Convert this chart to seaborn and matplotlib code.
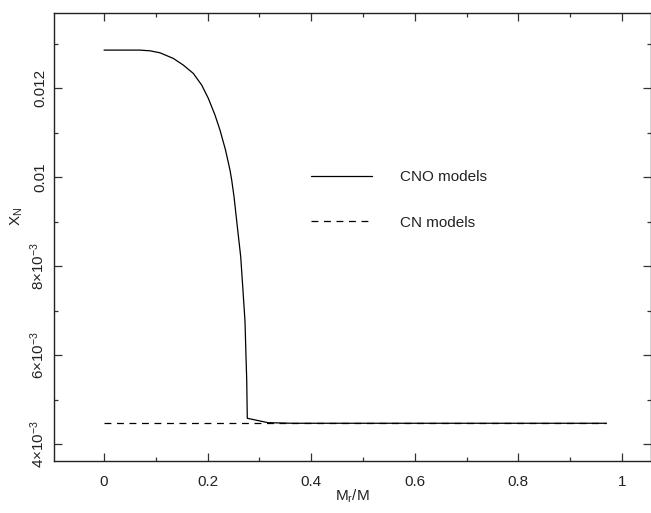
import numpy as np
import pandas as pd
import matplotlib
matplotlib.use("Agg")
import matplotlib.pyplot as plt
import seaborn as sns
from matplotlib.ticker import FixedLocator, MultipleLocator

# ---- data ----
mass_cno = [0.0, 0.0695, 0.0888, 0.1081, 0.1338, 0.1531, 0.1724, 0.1886, 0.2014,
            0.2143, 0.2239, 0.2346, 0.2432, 0.2465, 0.2510, 0.2581, 0.2639, 0.2678,
            0.2722, 0.2741, 0.2755, 0.2766, 0.3166, 0.3624, 0.97]
xn_cno = [0.012854, 0.012854, 0.012838, 0.012793, 0.012667, 0.012517, 0.012330,
          0.012067, 0.011769, 0.011393, 0.011056, 0.010607, 0.010157, 0.009933,
          0.009558, 0.008809, 0.008209, 0.007535, 0.006749, 0.005962, 0.005439,
          0.004578, 0.004479, 0.004466, 0.004466]
mass_cn = [0.0, 0.97]
xn_cn = [0.004466, 0.004466]

ytick_vals = [0.004, 0.006, 0.008, 0.010, 0.012]
ytick_labels = [r"$4{\times}10^{-3}$", r"$6{\times}10^{-3}$", r"$8{\times}10^{-3}$", "0.01", "0.012"]
xtick_vals = [0, 0.2, 0.4, 0.6, 0.8, 1.0]
xtick_labels = ["0", "0.2", "0.4", "0.6", "0.8", "1"]

sns.set_style("ticks")
plt.rcParams["font.family"] = ["Liberation Sans", "DejaVu Sans"]
plt.rcParams["mathtext.fontset"] = "custom"
plt.rcParams["mathtext.rm"] = "Liberation Sans"
plt.rcParams["mathtext.it"] = "Liberation Sans"
plt.rcParams["mathtext.default"] = "regular"

fig = plt.figure(figsize=(6.51, 5.13), dpi=100)
ax = fig.add_axes([0.083, 0.1014, 0.917, 0.8736])

df_cno = pd.DataFrame({"m": mass_cno, "x": xn_cno})
df_cn = pd.DataFrame({"m": mass_cn, "x": xn_cn})
sns.lineplot(data=df_cno, x="m", y="x", ax=ax, color="black", lw=0.9,
             label="CNO models", sort=False)
sns.lineplot(data=df_cn, x="m", y="x", ax=ax, color="black", lw=0.9,
             dashes=False, label="CN models", sort=False)
ax.lines[1].set_dashes((5.5, 4.5))

ax.set_xlim(-0.0965, 1.056)
ax.set_ylim(0.003618, 0.013692)

ax.xaxis.set_major_locator(FixedLocator(xtick_vals))
ax.set_xticklabels(xtick_labels)
ax.xaxis.set_minor_locator(MultipleLocator(0.1))
ax.yaxis.set_major_locator(FixedLocator(ytick_vals))
ax.set_yticklabels(ytick_labels, rotation=90, va="center")
ax.yaxis.set_minor_locator(MultipleLocator(0.001))

ax.tick_params(which="both", direction="in", top=True, right=True, color="#333333",
               labelsize=11, labelcolor="#222222")
ax.tick_params(which="major", length=6, width=0.9)
ax.tick_params(which="minor", length=3, width=0.9)
ax.tick_params(axis="x", which="major", pad=10)
ax.tick_params(axis="y", which="major", pad=5)
for s in ax.spines.values():
    s.set_linewidth(1.0)
    s.set_color("#222222")

ax.set_xlabel(r"$M_r/M$", fontsize=11, color="#222222", labelpad=-1)
ax.set_ylabel(r"$X_N$", fontsize=11, color="#222222")
ax.yaxis.set_label_coords(-0.048, 0.545)

leg = ax.legend(loc="upper left", bbox_to_anchor=(0.408, 0.679), frameon=False,
                handlelength=4.0, handletextpad=1.8, labelspacing=2.05, fontsize=11)
for t in leg.get_texts():
    t.set_color("#222222")

fig.savefig("out.png", dpi=100)
